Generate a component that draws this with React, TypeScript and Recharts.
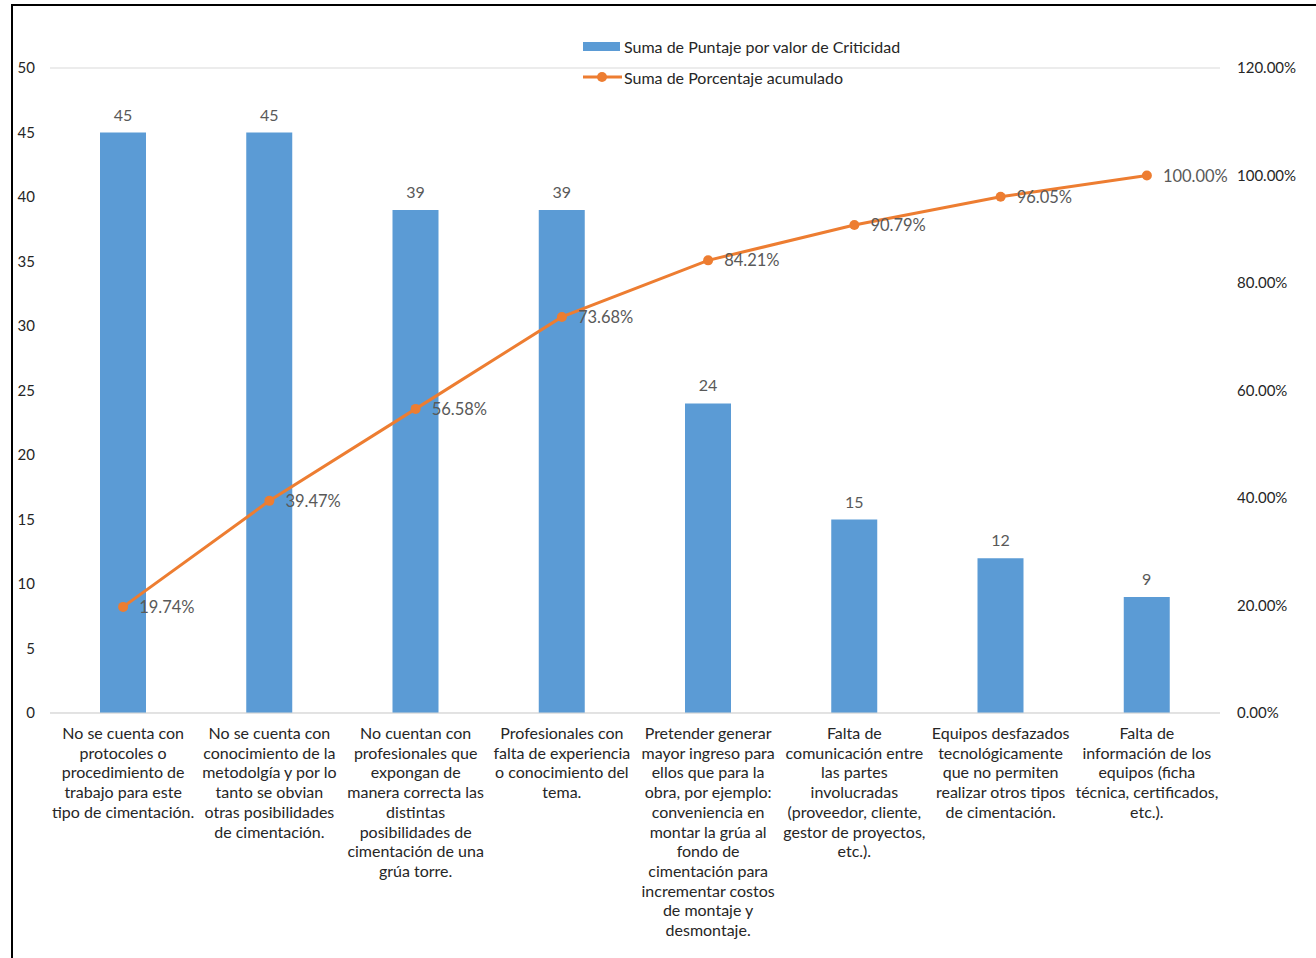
import { ComposedChart, Bar, Line, XAxis, YAxis, CartesianGrid, LabelList } from 'recharts';

const CATEGORIES = [
  'No se cuenta con\nprotocoles o\nprocedimiento de\ntrabajo para este\ntipo de cimentación.',
  'No se cuenta con\nconocimiento de la\nmetodolgía y por lo\ntanto se obvian\notras posibilidades\nde cimentación.',
  'No cuentan con\nprofesionales que\nexpongan de\nmanera correcta las\ndistintas\nposibilidades de\ncimentación de una\ngrúa torre.',
  'Profesionales con\nfalta de experiencia\no conocimiento del\ntema.',
  'Pretender generar\nmayor ingreso para\nellos que para la\nobra, por ejemplo:\nconveniencia en\nmontar la grúa al\nfondo de\ncimentación para\nincrementar costos\nde montaje y\ndesmontaje.',
  'Falta de\ncomunicación entre\nlas partes\ninvolucradas\n(proveedor, cliente,\ngestor de proyectos,\netc.).',
  'Equipos desfazados\ntecnológicamente\nque no permiten\nrealizar otros tipos\nde cimentación.',
  'Falta de\ninformación de los\nequipos (ficha\ntécnica, certificados,\netc.).',
];
const PUNTAJE = [45, 45, 39, 39, 24, 15, 12, 9];
const ACUMULADO = [0.1974, 0.3947, 0.5658, 0.7368, 0.8421, 0.9079, 0.9605, 1.0];
const LEFT_TICKS = [0, 5, 10, 15, 20, 25, 30, 35, 40, 45, 50];
const RIGHT_TICKS = [0, 0.2, 0.4, 0.6, 0.8, 1.0, 1.2];

const data = CATEGORIES.map((name, i) => ({
  name,
  puntaje: PUNTAJE[i],
  acumulado: ACUMULADO[i],
}));

const FONT = 'Lato, "Open Sans", sans-serif';
const BLUE = '#5B9BD5';
const ORANGE = '#ED7D31';

const pct = (v: number) => `${(v * 100).toFixed(2)}%`;

const CategoryTick = ({ x, y, payload }: any) => {
  const lines = String(payload.value).split('\n');
  return (
    <text x={x} y={y + 18} textAnchor="middle" fontSize={16} fill="#262626" fontFamily={FONT}>
      {lines.map((l, i) => (
        <tspan key={i} x={x} dy={i === 0 ? 0 : 19.7}>{l}</tspan>
      ))}
    </text>
  );
};

const LeftTick = ({ y, payload }: any) => (
  <text x={35} y={y + 5} textAnchor="end" fontSize={15} fill="#262626" fontFamily={FONT}>
    {payload.value}
  </text>
);

const RightTick = ({ y, payload }: any) => (
  <text x={1237} y={y + 5} textAnchor="start" fontSize={15} fill="#262626" fontFamily={FONT}>
    {pct(payload.value)}
  </text>
);

const LineLabel = ({ x, y, value }: any) => (
  <text x={x + 16} y={y + 6} textAnchor="start" fontSize={16.5} fill="#595959" fontFamily={FONT}>
    {pct(value)}
  </text>
);

const ChartLegend = () => (
  <div
    style={{
      position: 'absolute',
      left: 583,
      top: 36,
      fontFamily: FONT,
      fontSize: 16,
      color: '#262626',
    }}
  >
    <div style={{ display: 'flex', alignItems: 'center', height: 20 }}>
      <span style={{ display: 'inline-block', width: 37, height: 9, background: BLUE, marginRight: 4 }} />
      Suma de Puntaje por valor de Criticidad
    </div>
    <div style={{ display: 'flex', alignItems: 'center', height: 20, marginTop: 11 }}>
      <svg width={41} height={12}>
        <line x1={0} y1={6} x2={39} y2={6} stroke={ORANGE} strokeWidth={3} />
        <circle cx={19} cy={6} r={5} fill={ORANGE} />
      </svg>
      Suma de Porcentaje acumulado
    </div>
  </div>
);

export default function App() {
  return (
    <div style={{ position: 'absolute', left: 0, top: 0, width: 1316, height: 958, overflow: 'hidden', background: '#fff' }}>
      <div
        style={{
          position: 'absolute',
          left: 11,
          top: 4,
          width: 1320,
          height: 970,
          border: '2px solid #000',
          boxSizing: 'border-box',
        }}
      />
      <ComposedChart
        width={1316}
        height={958}
        data={data}
        margin={{ top: 68, right: 0, bottom: 0, left: 0 }}
        barCategoryGap={0}
        style={{ position: 'absolute', left: 0, top: 0 }}
      >
        <CartesianGrid vertical={false} stroke="#d9d9d9" strokeWidth={1} />
        <XAxis
          dataKey="name"
          height={245}
          interval={0}
          tickLine={false}
          axisLine={{ stroke: '#d9d9d9' }}
          tick={<CategoryTick />}
        />
        <YAxis
          yAxisId="left"
          orientation="left"
          width={50}
          domain={[0, 50]}
          ticks={LEFT_TICKS}
          axisLine={false}
          tickLine={false}
          tick={<LeftTick />}
        />
        <YAxis
          yAxisId="right"
          orientation="right"
          width={96}
          domain={[0, 1.2]}
          ticks={RIGHT_TICKS}
          axisLine={false}
          tickLine={false}
          tick={<RightTick />}
        />
        <Bar yAxisId="left" dataKey="puntaje" fill={BLUE} barSize={46} isAnimationActive={false}>
          <LabelList dataKey="puntaje" position="top" offset={12} fontSize={16} fill="#595959" fontFamily={FONT} />
        </Bar>
        <Line
          yAxisId="right"
          dataKey="acumulado"
          stroke={ORANGE}
          strokeWidth={3}
          dot={{ r: 5, fill: ORANGE, stroke: ORANGE, strokeWidth: 0 }}
          activeDot={false}
          isAnimationActive={false}
        >
          <LabelList dataKey="acumulado" content={<LineLabel />} />
        </Line>
      </ComposedChart>
      <ChartLegend />
    </div>
  );
}
